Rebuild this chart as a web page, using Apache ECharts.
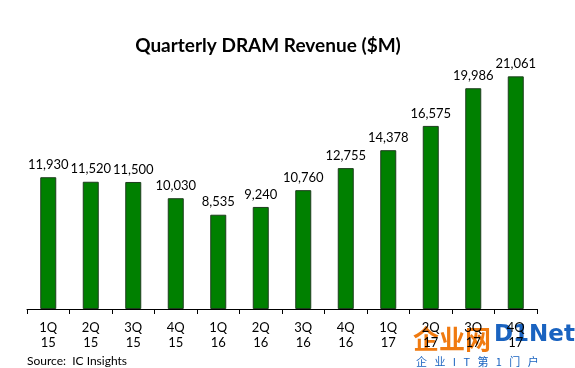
<!DOCTYPE html>
<html><head><meta charset="utf-8">
<script src="https://cdn.jsdelivr.net/npm/echarts@6/dist/echarts.min.js"></script>
<style>html,body{margin:0;padding:0;background:#fff}#c{width:575px;height:368px}</style>
</head><body><div id="c"></div>
<script>
const categories = ["1Q\n15","2Q\n15","3Q\n15","4Q\n15","1Q\n16","2Q\n16","3Q\n16","4Q\n16","1Q\n17","2Q\n17","3Q\n17","4Q\n17"];
const revenue = [11930,11520,11500,10030,8535,9240,10760,12755,14378,16575,19986,21061];
const titleText = "Quarterly DRAM Revenue ($M)";
const sourceText = "Source:  IC Insights";

const chart = echarts.init(document.getElementById('c'));
chart.setOption({
  animation:false,
  backgroundColor:'#fff',
  title:{text:titleText,left:263,top:31,textAlign:'center',
    textStyle:{fontFamily:'Lato',fontWeight:'bold',fontSize:19,color:'#000'}},
  grid:{left:27,right:38,top:66,bottom:59},
  xAxis:{type:'category',data:categories,
    axisLine:{lineStyle:{color:'#000',width:1}},
    axisTick:{show:true,length:5,lineStyle:{color:'#000'}},
    axisLabel:{fontFamily:'Lato',fontSize:13,color:'#000',lineHeight:15,margin:11}},
  yAxis:{type:'value',min:0,max:22000,show:false,splitLine:{show:false}},
  series:[{type:'bar',data:revenue,barWidth:16,
    itemStyle:{color:'#008000',borderColor:'#1e3d1e',borderWidth:1},
    label:{show:true,position:'top',distance:6,fontFamily:'Lato',fontSize:13,color:'#000',
      formatter:p=>p.value.toLocaleString('en-US')}}],
  graphic:[
    {type:'text',left:27,top:355,style:{text:sourceText,font:'12px Lato',fill:'#000'}},
    {type:'text',left:413,top:326,style:{text:'企业网',font:'bold 26px "Noto Sans CJK SC"',fill:'#f07a10'}},
    {type:'text',left:494,top:324,style:{text:'D1Net',font:'bold 23px "DejaVu Sans"',fill:'#1a63c0'}},
    {type:'text',left:416,top:356,style:{text:'企   业   I   T   第   1   门   户',font:'11px "Noto Sans CJK SC"',fill:'#1a63c0'}}
  ]
});
</script></body></html>
